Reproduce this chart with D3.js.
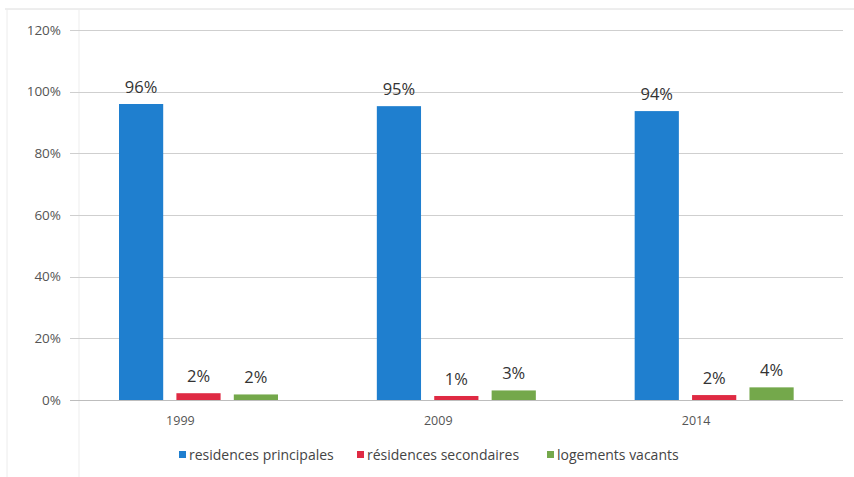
<!DOCTYPE html>
<html>
<head>
<meta charset="utf-8">
<script src="https://cdn.jsdelivr.net/npm/d3@7"></script>
<style>
  body { margin: 0; background: #fff; }
  svg text { font-family: "Open Sans", "Noto Sans", sans-serif; }
</style>
</head>
<body>
<div id="chart"></div>
<script>
const years = ["1999", "2009", "2014"];
const series = ["residences principales", "résidences secondaires", "logements vacants"];
const principales = [96, 95.3, 93.7];
const secondaires = [2.2, 1.3, 1.6];
const vacants = [1.8, 3.1, 4.1];
const yTicks = [0, 20, 40, 60, 80, 100, 120];
const colors = ["#1f7fcf", "#df2a43", "#74a84b"];

const width = 854, height = 477;
const values = [principales, secondaires, vacants];

const svg = d3.select("#chart")
    .append("svg")
    .attr("width", width)
    .attr("height", height);

// frame lines of the scanned page
svg.append("line").attr("x1", 5).attr("x2", width).attr("y1", 9).attr("y2", 9)
    .attr("stroke", "#dcdcdc");
svg.append("line").attr("x1", 7).attr("x2", 7).attr("y1", 9).attr("y2", height)
    .attr("stroke", "#ececec");
svg.append("line").attr("x1", 79).attr("x2", 79).attr("y1", 9).attr("y2", height)
    .attr("stroke", "#ededed");

const x0 = d3.scaleBand().domain(years).range([69.5, 843]);
const x1 = d3.scaleBand().domain(series).range([49.5, 208.5]).paddingInner(0.23);
const y = d3.scaleLinear().domain([0, 120]).range([400, 30]);

// gridlines
svg.selectAll("line.grid")
    .data(yTicks)
    .enter()
    .append("line")
    .classed("grid", true)
    .attr("x1", 70)
    .attr("x2", 843)
    .attr("y1", d => Math.round(y(d)) + 0.5)
    .attr("y2", d => Math.round(y(d)) + 0.5)
    .attr("stroke", d => d === 0 ? "#bdbdbd" : "#cfcfcf");

// y labels
svg.selectAll("text.ylab")
    .data(yTicks)
    .enter()
    .append("text")
    .classed("ylab", true)
    .attr("x", 61)
    .attr("y", d => y(d))
    .attr("dy", "0.35em")
    .attr("text-anchor", "end")
    .attr("font-size", 13.5)
    .attr("fill", "#555")
    .text(d => d + "%");

// x labels
svg.selectAll("text.xlab")
    .data(years)
    .enter()
    .append("text")
    .classed("xlab", true)
    .attr("x", d => x0(d) + x0.bandwidth() / 2 - 18)
    .attr("y", 425)
    .attr("text-anchor", "middle")
    .attr("font-size", 12.5)
    .attr("fill", "#555")
    .text(d => d);

const bars = [];
years.forEach((yr, i) => {
    series.forEach((s, j) => {
        bars.push({ year: yr, serie: s, idx: j, value: values[j][i] });
    });
});

svg.selectAll("rect.bar")
    .data(bars)
    .enter()
    .append("rect")
    .classed("bar", true)
    .attr("x", d => x0(d.year) + x1(d.serie))
    .attr("y", d => y(d.value))
    .attr("width", x1.bandwidth())
    .attr("height", d => y(0) - y(d.value))
    .attr("fill", d => colors[d.idx]);

svg.selectAll("text.val")
    .data(bars)
    .enter()
    .append("text")
    .classed("val", true)
    .attr("x", d => x0(d.year) + x1(d.serie) + x1.bandwidth() / 2)
    .attr("y", d => y(d.value) - 11)
    .attr("text-anchor", "middle")
    .attr("font-size", 16.5)
    .attr("fill", "#333")
    .text(d => Math.round(d.value) + "%");

// legend
const legendX = [179, 357, 547];
const legend = svg.selectAll("g.leg")
    .data(series)
    .enter()
    .append("g")
    .classed("leg", true)
    .attr("transform", (d, i) => `translate(${legendX[i]},455)`);

legend.append("rect")
    .attr("x", 0)
    .attr("y", -4)
    .attr("width", 7)
    .attr("height", 7)
    .attr("fill", (d, i) => colors[i]);

legend.append("text")
    .attr("x", 10)
    .attr("y", 0)
    .attr("dy", "0.35em")
    .attr("font-size", 14)
    .attr("fill", "#444")
    .text(d => d);
</script>
</body>
</html>
